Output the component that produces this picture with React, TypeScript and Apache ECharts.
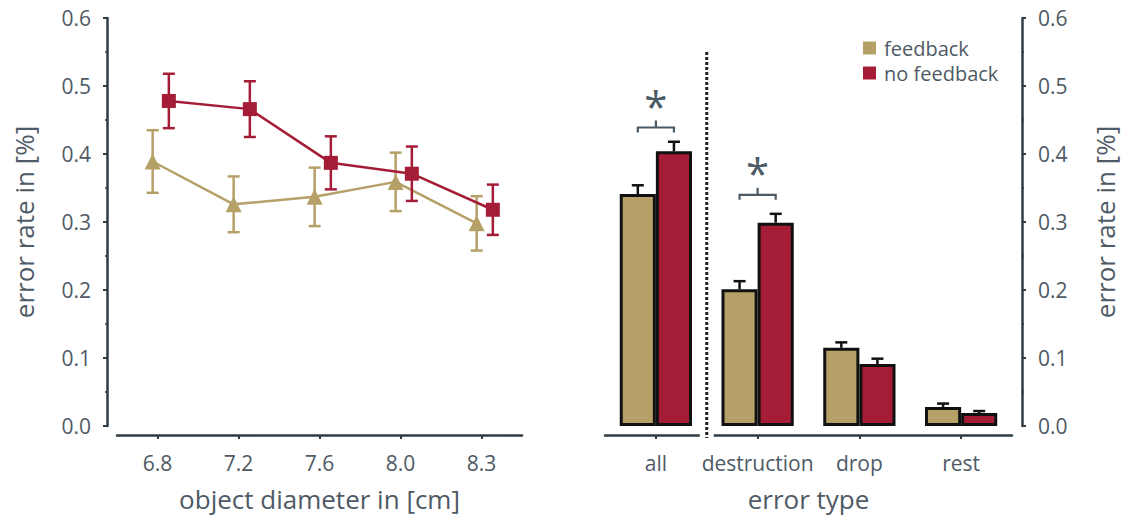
import React, { useEffect, useRef } from 'react';
import * as echarts from 'echarts';

// Error rate by object diameter (left panel)
const diameters = ['6.8', '7.2', '7.6', '8.0', '8.3'];
const feedbackByDiameter = [0.389, 0.326, 0.337, 0.359, 0.298];
const feedbackByDiameterErr = [0.046, 0.041, 0.043, 0.043, 0.040];
const noFeedbackByDiameter = [0.478, 0.466, 0.387, 0.371, 0.318];
const noFeedbackByDiameterErr = [0.040, 0.041, 0.039, 0.040, 0.037];

// Error rate by error type (right panel)
const errorTypes = ['all', 'destruction', 'drop', 'rest'];
const feedbackByType = [0.341, 0.201, 0.115, 0.028];
const feedbackByTypeErr = [0.013, 0.012, 0.008, 0.005];
const noFeedbackByType = [0.404, 0.299, 0.091, 0.019];
const noFeedbackByTypeErr = [0.014, 0.013, 0.008, 0.003];

// Significant differences: category index and bracket height
const significantTypes = [0, 1];
const bracketLevels = [0.439, 0.34];

const seriesNames = ['feedback', 'no feedback'];

// styling
const FONT = '"Open Sans", sans-serif';
const TEXT = '#4e5a65';
const AXIS = '#2e3c46';
const BRACKET = '#4a5a66';
const TAN = '#b5a068';
const RED = '#a41c35';
const BAR_GAP = 0.29;
const OFFSET_FB = -0.06;
const OFFSET_NF = 0.14;
const SEPARATOR_TOP = 0.55;

const lineErrorItem = (color: string) => (params: any, api: any) => {
  const x = api.value(0);
  const y = api.value(1);
  const e = api.value(2);
  const top = api.coord([x, y + e]);
  const bot = api.coord([x, y - e]);
  const cap = 6;
  const style = { stroke: color, lineWidth: 2.5 };
  return {
    type: 'group',
    children: [
      { type: 'line', shape: { x1: top[0], y1: top[1], x2: bot[0], y2: bot[1] }, style },
      { type: 'line', shape: { x1: top[0] - cap, y1: top[1], x2: top[0] + cap, y2: top[1] }, style },
      { type: 'line', shape: { x1: bot[0] - cap, y1: bot[1], x2: bot[0] + cap, y2: bot[1] }, style },
    ],
  };
};

const barErrorItem = (side: number) => (params: any, api: any) => {
  const idx = api.value(0);
  const v = api.value(1);
  const e = api.value(2);
  const band = api.size([1, 0])[0];
  const shift = (side * band * (1 - BAR_GAP)) / 4;
  const base = api.coord([idx, v]);
  const top = api.coord([idx, v + e]);
  const x = base[0] + shift;
  const cap = 6;
  const style = { stroke: '#111', lineWidth: 2.5 };
  return {
    type: 'group',
    children: [
      { type: 'line', shape: { x1: x, y1: base[1], x2: x, y2: top[1] }, style },
      { type: 'line', shape: { x1: x - cap, y1: top[1], x2: x + cap, y2: top[1] }, style },
    ],
  };
};

const bracketItem = (params: any, api: any) => {
  const idx = api.value(0);
  const level = api.value(1);
  const band = api.size([1, 0])[0];
  const half = (band * (1 - BAR_GAP)) / 4;
  const p = api.coord([idx, level]);
  const x = p[0];
  const y = p[1];
  const style = { stroke: BRACKET, lineWidth: 2.2, fill: 'none' };
  return {
    type: 'group',
    children: [
      {
        type: 'polyline',
        shape: { points: [[x - half, y + 5], [x - half, y], [x + half, y], [x + half, y + 5]] },
        style,
      },
      { type: 'line', shape: { x1: x, y1: y, x2: x, y2: y - 7 }, style },
      {
        type: 'text',
        x,
        y: y - 22,
        style: {
          text: '*',
          fill: BRACKET,
          fontSize: 42,
          fontFamily: FONT,
          align: 'center',
          verticalAlign: 'middle',
        },
      },
    ],
  };
};

const separatorItem = (params: any, api: any) => {
  const band = api.size([1, 0])[0];
  const p0 = api.coord([0, 0]);
  const x = p0[0] + band / 2;
  const top = api.coord([0, SEPARATOR_TOP])[1];
  return {
    type: 'group',
    children: [
      { type: 'rect', shape: { x: x - 7, y: p0[1] + 4, width: 14, height: 10 }, style: { fill: '#fff' } },
      {
        type: 'line',
        shape: { x1: x, y1: top, x2: x, y2: p0[1] + 12 },
        style: { stroke: '#222', lineWidth: 3, lineDash: [3, 2] },
      },
    ],
  };
};

const axisText = { color: TEXT, fontSize: 21, fontFamily: FONT };
const nameText = { color: TEXT, fontSize: 26, fontFamily: FONT };

const catAxis = (gridIndex: number, data: string[], name: string) => ({
  type: 'category',
  gridIndex,
  data,
  offset: 9,
  boundaryGap: true,
  axisLine: { show: true, onZero: false, lineStyle: { color: AXIS, width: 2.5 } },
  axisTick: { show: true, alignWithLabel: true, length: 4, lineStyle: { color: AXIS, width: 2 } },
  axisLabel: { ...axisText, margin: 17, interval: 0 },
  splitLine: { show: false },
  name,
  nameLocation: 'middle',
  nameGap: 51,
  nameTextStyle: nameText,
});

const rateAxis = (gridIndex: number, position: string) => ({
  type: 'value',
  gridIndex,
  position,
  min: 0,
  max: 0.6,
  interval: 0.1,
  offset: 10,
  axisLine: { show: true, onZero: false, lineStyle: { color: AXIS, width: 2.5 } },
  axisTick: { show: true, length: 4, lineStyle: { color: AXIS, width: 2 } },
  minorTick: { show: true, splitNumber: 2, length: 2, lineStyle: { color: AXIS, width: 1.5 } },
  splitLine: { show: false },
  minorSplitLine: { show: false },
  axisLabel: { ...axisText, margin: 16, formatter: (v: number) => v.toFixed(1) },
  name: 'error rate in [%]',
  nameLocation: 'middle',
  nameRotate: 90,
  nameGap: 70,
  nameTextStyle: nameText,
});

export default function App() {
  const ref = useRef<HTMLDivElement>(null);

  useEffect(() => {
    if (!ref.current) return;
    const chart = echarts.init(ref.current, undefined, { renderer: 'svg' });

    const option: any = {
      animation: false,
      backgroundColor: '#ffffff',
      grid: [
        { left: 117, top: 18, width: 405, height: 408 },
        { left: 605, top: 18, width: 407, height: 408 },
      ],
      legend: {
        orient: 'vertical',
        left: 858,
        top: 33,
        itemWidth: 13,
        itemHeight: 13,
        itemGap: 5,
        icon: 'rect',
        data: seriesNames,
        itemStyle: { borderWidth: 0 },
        formatter: (name: string) => `{t|${name}}`,
        textStyle: {
          rich: { t: { ...axisText, fontSize: 20, lineHeight: 21, padding: [0, 0, 0, 3] } },
        },
      },
      xAxis: [
        catAxis(0, diameters, 'object diameter in [cm]'),
        { type: 'value', gridIndex: 0, min: -0.5, max: 4.5, show: false },
        catAxis(1, errorTypes, 'error type'),
      ],
      yAxis: [rateAxis(0, 'left'), rateAxis(1, 'right')],
      series: [
        {
          type: 'custom',
          name: seriesNames[0],
          xAxisIndex: 1,
          yAxisIndex: 0,
          renderItem: lineErrorItem(TAN),
          data: diameters.map((_, i) => [i + OFFSET_FB, feedbackByDiameter[i], feedbackByDiameterErr[i]]),
          encode: { x: 0, y: 1 },
          itemStyle: { color: TAN },
          z: 2,
          silent: true,
        },
        {
          type: 'line',
          name: seriesNames[0],
          xAxisIndex: 1,
          yAxisIndex: 0,
          data: diameters.map((_, i) => [i + OFFSET_FB, feedbackByDiameter[i]]),
          symbol: 'triangle',
          symbolSize: 16,
          itemStyle: { color: TAN },
          lineStyle: { color: TAN, width: 2.5 },
          z: 3,
        },
        {
          type: 'custom',
          name: seriesNames[1],
          xAxisIndex: 1,
          yAxisIndex: 0,
          renderItem: lineErrorItem(RED),
          data: diameters.map((_, i) => [i + OFFSET_NF, noFeedbackByDiameter[i], noFeedbackByDiameterErr[i]]),
          encode: { x: 0, y: 1 },
          itemStyle: { color: RED },
          z: 4,
          silent: true,
        },
        {
          type: 'line',
          name: seriesNames[1],
          xAxisIndex: 1,
          yAxisIndex: 0,
          data: diameters.map((_, i) => [i + OFFSET_NF, noFeedbackByDiameter[i]]),
          symbol: 'rect',
          symbolSize: 14,
          itemStyle: { color: RED },
          lineStyle: { color: RED, width: 2.5 },
          z: 5,
        },
        {
          type: 'bar',
          name: seriesNames[0],
          xAxisIndex: 2,
          yAxisIndex: 1,
          data: feedbackByType,
          barGap: '0%',
          barCategoryGap: `${BAR_GAP * 100}%`,
          itemStyle: { color: TAN, borderColor: '#111', borderWidth: 3 },
          z: 2,
        },
        {
          type: 'bar',
          name: seriesNames[1],
          xAxisIndex: 2,
          yAxisIndex: 1,
          data: noFeedbackByType,
          barGap: '0%',
          barCategoryGap: `${BAR_GAP * 100}%`,
          itemStyle: { color: RED, borderColor: '#111', borderWidth: 3 },
          z: 2,
        },
        {
          type: 'custom',
          xAxisIndex: 2,
          yAxisIndex: 1,
          renderItem: barErrorItem(-1),
          data: errorTypes.map((_, i) => [i, feedbackByType[i], feedbackByTypeErr[i]]),
          encode: { x: 0, y: 1 },
          z: 3,
          silent: true,
        },
        {
          type: 'custom',
          xAxisIndex: 2,
          yAxisIndex: 1,
          renderItem: barErrorItem(1),
          data: errorTypes.map((_, i) => [i, noFeedbackByType[i], noFeedbackByTypeErr[i]]),
          encode: { x: 0, y: 1 },
          z: 3,
          silent: true,
        },
        {
          type: 'custom',
          xAxisIndex: 2,
          yAxisIndex: 1,
          renderItem: bracketItem,
          data: significantTypes.map((c, i) => [c, bracketLevels[i]]),
          encode: { x: 0, y: 1 },
          clip: false,
          z: 4,
          silent: true,
        },
        {
          type: 'custom',
          xAxisIndex: 2,
          yAxisIndex: 1,
          renderItem: separatorItem,
          data: [[0, 0]],
          encode: { x: 0, y: 1 },
          clip: false,
          z: 5,
          silent: true,
        },
      ],
    };

    chart.setOption(option);
    return () => chart.dispose();
  }, []);

  return (
    <div
      ref={ref}
      style={{ position: 'fixed', left: 0, top: 0, width: 1130, height: 520 }}
    />
  );
}
